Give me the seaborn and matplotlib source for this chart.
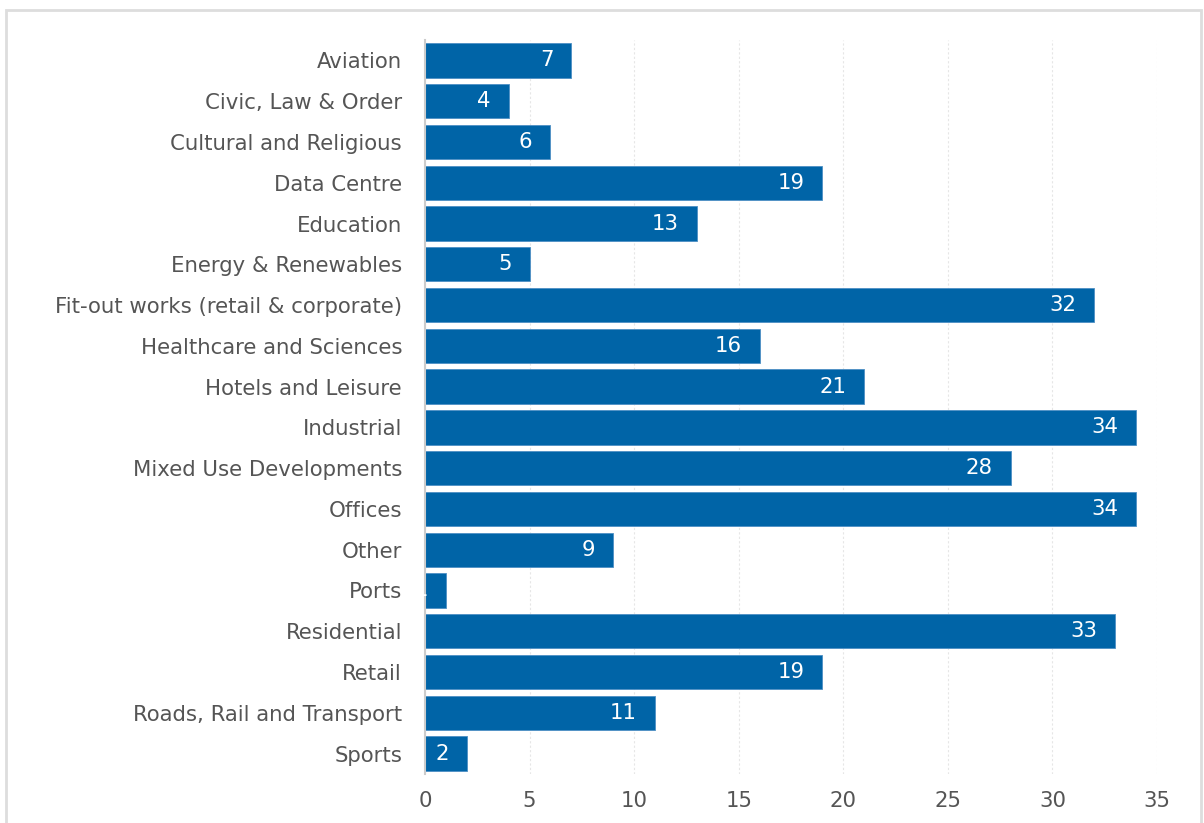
import matplotlib
matplotlib.use("Agg")
import matplotlib.pyplot as plt
import matplotlib.transforms as mtransforms
import seaborn as sns
import pandas as pd
from matplotlib.patches import Rectangle

sectors = [
    "Aviation", "Civic, Law & Order", "Cultural and Religious", "Data Centre",
    "Education", "Energy & Renewables", "Fit-out works (retail & corporate)",
    "Healthcare and Sciences", "Hotels and Leisure", "Industrial",
    "Mixed Use Developments", "Offices", "Other", "Ports", "Residential",
    "Retail", "Roads, Rail and Transport", "Sports",
]
projects = [7, 4, 6, 19, 13, 5, 32, 16, 21, 34, 28, 34, 9, 1, 33, 19, 11, 2]
x_ticks = [0, 5, 10, 15, 20, 25, 30, 35]

df = pd.DataFrame({"sector": sectors, "projects": projects})

sns.set_theme(style="white")
plt.rcParams["font.family"] = ["DejaVu Sans"]

bar_color = "#0064A7"
text_color = "#555555"

fig = plt.figure(figsize=(12.04, 8.23), dpi=100)
ax = fig.add_axes([425 / 1204, 1 - 774 / 823, 732 / 1204, 734 / 823])

sns.barplot(data=df, x="projects", y="sector", orient="h", color=bar_color,
            saturation=1, width=0.84, ax=ax, edgecolor="#4d8fc4", linewidth=0.6)

ax.set_xlim(0, 35)
ax.set_xticks(x_ticks)
ax.set_xlabel("")
ax.set_ylabel("")
ax.grid(axis="x", color="#e6e6e6", linestyle=(0, (2, 2)), linewidth=0.8)
ax.set_axisbelow(True)
for side in ["top", "right", "bottom"]:
    ax.spines[side].set_visible(False)
ax.spines["left"].set_color("#cccccc")
ax.spines["left"].set_linewidth(1.5)
ax.tick_params(axis="y", length=0, pad=16.5, labelsize=15.3, labelcolor=text_color)
ax.tick_params(axis="x", length=0, pad=12, labelsize=15.3, labelcolor=text_color)

# value labels, right-aligned inside each bar and clipped to it
offset = mtransforms.ScaledTranslation(-18 / 100, 0, fig.dpi_scale_trans)
for bar, val in zip(ax.patches, projects):
    y = bar.get_y() + bar.get_height() / 2
    t = ax.text(bar.get_width(), y, str(val), ha="right", va="center",
                color="white", fontsize=15.3, transform=ax.transData + offset)
    t.set_clip_path(bar)

# outer frame
fig.patches.append(Rectangle((6 / 1204, -0.05), (1201 - 6) / 1204, 1 - 10 / 823 + 0.05,
                             transform=fig.transFigure, fill=False,
                             edgecolor="#dddddd", linewidth=2))

fig.savefig("out.png", dpi=100)
